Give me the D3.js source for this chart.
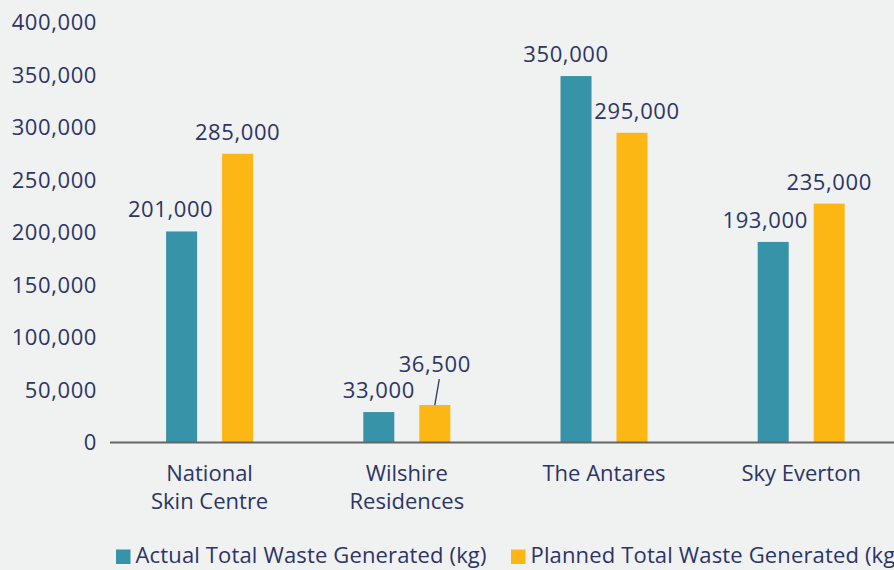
<!DOCTYPE html>
<html>
<head>
<meta charset="utf-8">
<script src="https://cdn.jsdelivr.net/npm/d3@7"></script>
<style>
  html, body { margin: 0; padding: 0; background: #f0f1f1; }
  svg { display: block; font-family: "Open Sans", "Noto Sans", sans-serif; }
</style>
</head>
<body>
<svg id="chart"></svg>
<script>
const categories = [['National', 'Skin Centre'], ['Wilshire', 'Residences'], ['The Antares'], ['Sky Everton']];
const seriesNames = ['Actual Total Waste Generated (kg)', 'Planned Total Waste Generated (kg)'];
// bar heights as drawn in the picture
const actualValues = [201000, 29000, 349000, 191000];
const plannedValues = [275000, 35700, 295000, 227500];
// data labels as printed
const actualLabels = ['201,000', '33,000', '350,000', '193,000'];
const plannedLabels = ['285,000', '36,500', '295,000', '235,000'];
const yTicks = [0, 50000, 100000, 150000, 200000, 250000, 300000, 350000, 400000];

(function() {
  const width = 894;
  const height = 570;
  const colors = ['#3793a7', '#fdb714'];
  const textColor = '#2c3566';
  const fontSize = 22;
  const numSpacing = '0.6px';

  // label nudges [dx, dy] per series / category (layout only)
  const labelNudge = [
    [[-11, 0], [0, 0], [-10, 0], [-8, 0]],
    [[0, 0], [0, -19], [5, 0], [0, 0]]
  ];

  const svg = d3.select('#chart')
    .attr('width', width)
    .attr('height', height);

  const x0 = d3.scaleBand()
    .domain(d3.range(categories.length))
    .range([111, 111 + 197.2 * categories.length]);

  const x1 = d3.scaleBand()
    .domain(d3.range(seriesNames.length))
    .range([x0.bandwidth() / 2 - 43.5, x0.bandwidth() / 2 + 43.5])
    .paddingInner(0.446);

  const y = d3.scaleLinear()
    .domain([0, 400000])
    .range([442.5, 22.5]);

  // y tick labels
  const yAxis = svg.append('g').attr('class', 'y-axis');
  yAxis.selectAll('text')
    .data(yTicks)
    .enter()
    .append('text')
    .attr('x', 97)
    .attr('y', function(d) { return y(d); })
    .attr('dy', '0.36em')
    .attr('text-anchor', 'end')
    .attr('fill', textColor)
    .style('font-size', fontSize + 'px')
    .style('letter-spacing', numSpacing)
    .text(d3.format(','));

  const series = [actualValues, plannedValues];
  const labels = [actualLabels, plannedLabels];

  const bars = svg.append('g').attr('class', 'bars');
  series.forEach(function(values, s) {
    bars.selectAll('rect.s' + s)
      .data(values)
      .enter()
      .append('rect')
      .attr('class', 's' + s)
      .attr('x', function(d, i) { return x0(i) + x1(s); })
      .attr('y', function(d) { return y(d); })
      .attr('width', x1.bandwidth())
      .attr('height', function(d) { return y(0) - y(d); })
      .attr('fill', colors[s]);
  });

  // baseline
  svg.append('line')
    .attr('x1', 110)
    .attr('x2', width)
    .attr('y1', y(0))
    .attr('y2', y(0))
    .attr('stroke', '#666')
    .attr('stroke-width', 2);

  // data labels
  const dataLabels = svg.append('g').attr('class', 'data-labels');
  series.forEach(function(values, s) {
    dataLabels.selectAll('text.s' + s)
      .data(values)
      .enter()
      .append('text')
      .attr('class', 's' + s)
      .attr('x', function(d, i) { return x0(i) + x1(s) + x1.bandwidth() / 2 + labelNudge[s][i][0]; })
      .attr('y', function(d, i) { return y(d) - 14 + labelNudge[s][i][1]; })
      .attr('text-anchor', 'middle')
      .attr('fill', textColor)
      .style('font-size', fontSize + 'px')
      .style('letter-spacing', numSpacing)
      .text(function(d, i) { return labels[s][i]; });
  });

  // leader line for the small planned label
  const leadIdx = 1;
  const leadX = x0(leadIdx) + x1(1) + x1.bandwidth() / 2;
  svg.append('line')
    .attr('x1', leadX + 4.5)
    .attr('y1', y(plannedValues[leadIdx]) - 26)
    .attr('x2', leadX)
    .attr('y2', y(plannedValues[leadIdx]))
    .attr('stroke', textColor)
    .attr('stroke-width', 1.3);

  // category labels
  const xLabels = svg.append('g').attr('class', 'x-labels');
  xLabels.selectAll('text')
    .data(categories)
    .enter()
    .append('text')
    .attr('x', function(d, i) { return x0(i) + x0.bandwidth() / 2; })
    .attr('y', 481)
    .attr('text-anchor', 'middle')
    .attr('fill', textColor)
    .style('font-size', fontSize + 'px')
    .each(function(d) {
      const t = d3.select(this);
      d.forEach(function(line, k) {
        t.append('tspan')
          .attr('x', t.attr('x'))
          .attr('dy', k === 0 ? 0 : 28)
          .text(line);
      });
    });

  // legend
  const legendX = [116, 511];
  const legend = svg.append('g').attr('class', 'legend');
  seriesNames.forEach(function(name, s) {
    legend.append('rect')
      .attr('x', legendX[s])
      .attr('y', 549.5)
      .attr('width', 14.5)
      .attr('height', 14.5)
      .attr('fill', colors[s]);
    legend.append('text')
      .attr('x', legendX[s] + 19.5)
      .attr('y', 563)
      .attr('fill', textColor)
      .style('font-size', fontSize + 'px')
      .style('letter-spacing', '0.15px')
      .text(name);
  });
})();
</script>
</body>
</html>
